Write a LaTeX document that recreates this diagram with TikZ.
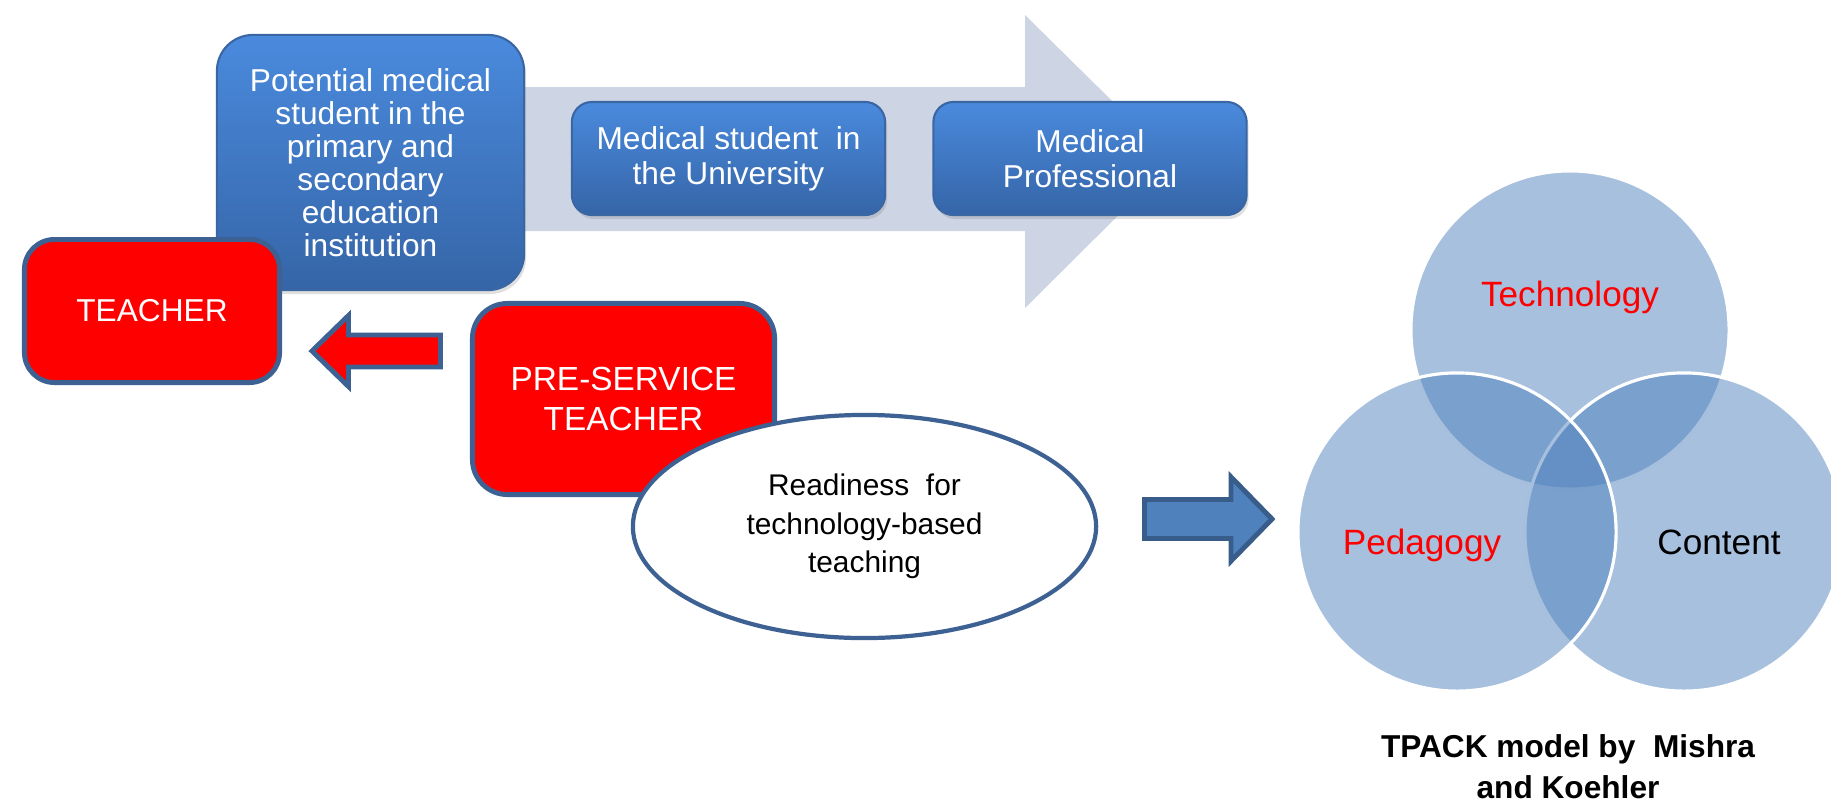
\documentclass[tikz,border=0pt]{standalone}
\usepackage{fontspec}
\setmainfont{Liberation Sans}
\usepackage{tikz}
\usetikzlibrary{shadows,shapes.geometric}

\definecolor{boxtop}{HTML}{4A8ADD}
\definecolor{boxbot}{HTML}{3565A7}
\definecolor{boxline}{HTML}{3A66A3}
\definecolor{edgeblue}{HTML}{3D6193}
\definecolor{flowgrey}{HTML}{CDD5E4}
\definecolor{vennblue}{HTML}{4F81BD}
\definecolor{arrowline}{HTML}{385D8A}
\definecolor{boxred}{HTML}{FF0000}

\begin{document}
\begin{tikzpicture}[x=0.01cm,y=-0.01cm,
    bluebox/.style={rectangle,
          draw = boxline,
          line width = 0.6pt,
          top color = boxtop,
          bottom color = boxbot,
          inner sep = 0pt,
          drop shadow = {shadow xshift=0.02cm, shadow yshift=-0.04cm, opacity=0.25}},
    redbox/.style={rectangle,
          draw = edgeblue,
          line width = 1.4pt,
          fill = boxred,
          inner sep = 0pt},
    venn/.style={circle,
          fill = vennblue,
          fill opacity = 0.5,
          draw = white,
          line width = 0.9pt,
          minimum size = 3.18cm,
          inner sep = 0pt},
    boxtext/.style={align=center, text=white}]

    \useasboundingbox (0,0) rectangle (1831,806);

    %process arrow behind the blue boxes
    \fill[flowgrey] (400,87) -- (1025,87) -- (1025,15) -- (1173,161)
        -- (1025,308) -- (1025,231) -- (400,231) -- cycle;

    \node[bluebox,
          rounded corners = 0.36cm,
          minimum width = 3.07cm,
          minimum height = 2.55cm
          ] (potential) at (370.5,162.5) {};
    \node[boxtext, font=\fontsize{9}{9.4}\selectfont] at (potential.center)
        {Potential medical\\student in the\\primary and\\secondary\\education\\institution};

    \node[bluebox,
          rounded corners = 0.2cm,
          minimum width = 3.13cm,
          minimum height = 1.13cm
          ] (medstudent) at (728.5,158.5) {};
    \node[boxtext, font=\fontsize{9}{10}\selectfont] at (medstudent.center)
        {Medical student\ \ in\\the University};

    \node[bluebox,
          rounded corners = 0.2cm,
          minimum width = 3.13cm,
          minimum height = 1.13cm
          ] (medprof) at (1090,158.5) {};
    \node[boxtext, font=\fontsize{9}{10}\selectfont] at (medprof.center)
        {Medical\\Professional};

    \node[redbox,
          rounded corners = 0.3cm,
          minimum width = 2.55cm,
          minimum height = 1.43cm
          ] (teacher) at (152,311) {};
    \node[boxtext, font=\fontsize{9}{10}\selectfont] at (teacher.center) {TEACHER};

    \node[redbox,
          rounded corners = 0.35cm,
          minimum width = 3.02cm,
          minimum height = 1.91cm
          ] (preservice) at (623.5,399) {};
    \node[boxtext, font=\fontsize{9.5}{11.4}\selectfont] at (preservice.center)
        {PRE-SERVICE\\TEACHER};

    \node[ellipse,
          draw = edgeblue,
          line width = 1.2pt,
          fill = white,
          inner sep = 0pt,
          minimum width = 4.63cm,
          minimum height = 2.23cm
          ] (readiness) at (864.5,526.5) {};
    \node[align=center, font=\fontsize{8.5}{11}\selectfont] at (readiness.center)
        {Readiness\ \ for\\technology-based\\teaching};

    %block arrows
    \coordinate (redtip) at (312,351);
    \draw[fill=boxred, draw=edgeblue, line width=1.4pt, line join=miter]
        (redtip) -- ++(36.5,-35.5) -- ++(0,19.5) -- ++(92,0) -- ++(0,32)
        -- ++(-92,0) -- ++(0,19.5) -- cycle;

    \coordinate (bluetip) at (1272,519);
    \draw[fill=vennblue, draw=arrowline, line width=1.4pt, line join=miter]
        (bluetip) -- ++(-41,-42) -- ++(0,22.5) -- ++(-86.5,0) -- ++(0,39)
        -- ++(86.5,0) -- ++(0,22.5) -- cycle;

    %TPACK circles
    \node[venn] (technology) at (1570,330) {};
    \node[venn] (content) at (1684,532) {};
    \node[venn] (pedagogy) at (1457,532) {};

    \node[text=boxred, font=\fontsize{10}{12}\selectfont] at ([yshift=0.33cm]technology.center) {Technology};
    \node[text=boxred, font=\fontsize{10}{12}\selectfont] at ([xshift=-0.35cm,yshift=-0.13cm]pedagogy.center) {Pedagogy};
    \node[font=\fontsize{10}{12}\selectfont] at ([xshift=0.35cm,yshift=-0.10cm]content.center) {Content};

    \node[align=center, font=\bfseries\fontsize{9}{11.7}\selectfont] (caption) at (1568,767)
        {TPACK model by\ \ Mishra\\and Koehler};

\end{tikzpicture}
\end{document}
